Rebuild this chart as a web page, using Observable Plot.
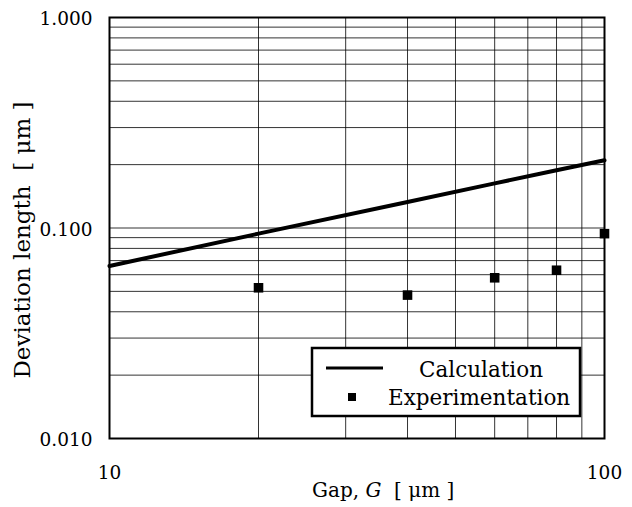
<!DOCTYPE html>
<html><head><meta charset="utf-8">
<script src="https://cdn.jsdelivr.net/npm/d3@7"></script>
<script src="https://cdn.jsdelivr.net/npm/@observablehq/plot@0.6"></script>
<style>body{margin:0;background:#fff}svg{display:block}</style>
</head><body><div id="chart"></div>
<script>
// ---- data ----
const gapCalc = [10, 20, 40, 60, 80, 100];
const devCalc = [0.066, 0.094, 0.133, 0.163, 0.188, 0.21];
const gapExp = [20, 40, 60, 80, 100];
const devExp = [0.052, 0.048, 0.058, 0.063, 0.094];
const seriesNames = ["Calculation", "Experimentation"];
const xTicks = [10, 100];
const yTicks = [0.01, 0.1, 1];
const xGrid = [10, 20, 30, 40, 50, 60, 70, 80, 90, 100];
const yGrid = [0.01, 0.02, 0.03, 0.04, 0.05, 0.06, 0.07, 0.08, 0.09, 0.1, 0.2, 0.3, 0.4, 0.5, 0.6, 0.7, 0.8, 0.9, 1];
const xTitleParts = [["Gap, ", "normal"], ["G", "italic"], ["  [ μm ]", "normal"]];
const yTitle = "Deviation length  [ μm ]";

const calc = gapCalc.map((g, i) => ({g, d: devCalc[i]}));
const exp = gapExp.map((g, i) => ({g, d: devExp[i]}));
const font = "'DejaVu Serif', serif";

const chart = Plot.plot({
  width: 632, height: 507,
  marginLeft: 109, marginRight: 28, marginTop: 17, marginBottom: 69,
  style: {fontFamily: font, background: "#fff", color: "#000"},
  x: {type: "log", domain: [10, 100]},
  y: {type: "log", domain: [0.01, 1]},
  marks: [
    Plot.gridX({ticks: xGrid, stroke: "#000", strokeOpacity: 0.8, strokeWidth: 1}),
    Plot.gridY({ticks: yGrid, stroke: "#000", strokeOpacity: 0.8, strokeWidth: 1}),
    Plot.axisX({ticks: xTicks, tickSize: 0, tickPadding: 27, fontSize: 18.5, tickFormat: d => String(d), label: null}),
    Plot.axisY({ticks: yTicks, tickSize: 0, tickPadding: 17, fontSize: 18.5, tickFormat: d3.format(".3f"), label: null, dy: 2}),
    Plot.frame({stroke: "#000", strokeWidth: 2}),
    Plot.line(calc, {x: "g", y: "d", stroke: "#000", strokeWidth: 4}),
    Plot.dot(exp, {x: "g", y: "d", symbol: "square", r: 5.4, fill: "#000", stroke: "none"})
  ]
});
document.getElementById("chart").appendChild(chart);

const svg = d3.select(chart);
// x title
const xt = svg.append("text")
  .attr("x", 312).attr("y", 497).attr("text-anchor", "start")
  .attr("font-family", font).attr("font-size", 20).attr("fill", "#000")
  .style("white-space", "pre");
xTitleParts.forEach(([t, s]) => xt.append("tspan").attr("font-style", s).text(t));
// y title
svg.append("text")
  .attr("transform", "translate(30,240) rotate(-90)")
  .attr("text-anchor", "middle")
  .attr("font-family", font).attr("font-size", 23).attr("fill", "#000")
  .style("white-space", "pre")
  .text(yTitle);
// legend
const lg = svg.append("g").attr("text-anchor", "start");
lg.append("rect").attr("x", 312).attr("y", 348).attr("width", 268).attr("height", 68)
  .attr("fill", "#fff").attr("stroke", "#000").attr("stroke-width", 2.5);
lg.append("line").attr("x1", 326).attr("x2", 383).attr("y1", 368).attr("y2", 368)
  .attr("stroke", "#000").attr("stroke-width", 2.8);
lg.append("rect").attr("x", 348).attr("y", 393).attr("width", 8).attr("height", 8).attr("fill", "#000");
lg.append("text").attr("x", 419).attr("y", 377).attr("text-anchor", "start").attr("font-family", font).attr("font-size", 21.5).attr("fill", "#000").text(seriesNames[0]);
lg.append("text").attr("x", 388).attr("y", 405).attr("text-anchor", "start").attr("font-family", font).attr("font-size", 21.5).attr("fill", "#000").text(seriesNames[1]);
</script>
</body></html>
